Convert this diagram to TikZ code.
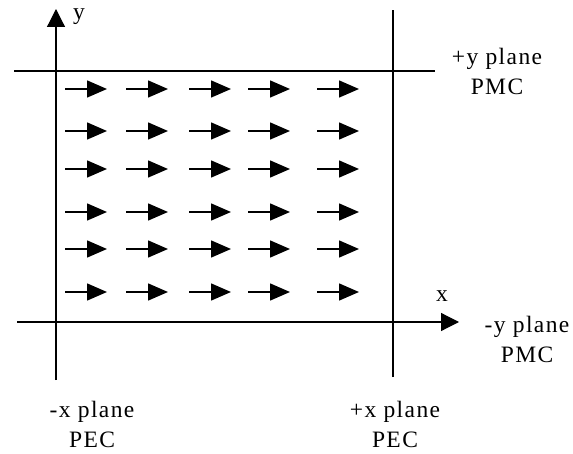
\documentclass[tikz,border=0pt]{standalone}
\usepackage{fontspec}
\setmainfont{Liberation Serif}
\newfontfamily\lblfont[LetterSpace=6]{Liberation Serif}
\usetikzlibrary{arrows.meta}
\begin{document}
\begin{tikzpicture}[x=1pt,y=-1pt,
  axis/.style={line width=1.2pt},
  axarrow/.style={line width=1.2pt,-{Triangle[length=18pt,width=18pt]}},
  fieldarrow/.style={line width=1.5pt,-{Triangle[length=20pt,width=17pt]}},
  lbl/.style={font=\lblfont\fontsize{23.5}{30}\selectfont,inner sep=0pt,align=center}]
\useasboundingbox (0,0) rectangle (573,454);
% axes / planes
\coordinate (ytop) at (56,9);
\coordinate (ybot) at (56,380);
\coordinate (xl) at (17,322);
\coordinate (xr) at (459,322);
\coordinate (tl) at (14,71);
\coordinate (tr) at (435,71);
\coordinate (rt) at (393,10);
\coordinate (rb) at (393,377);
\draw[axarrow] (ybot) -- (ytop);
\draw[axarrow] (xl) -- (xr);
\draw[axis] (tl) -- (tr);
\draw[axis] (rb) -- (rt);
% field arrows
\foreach \yy in {89,131,169,212,249,292}{
  \foreach \xa/\xb in {65/107,126/168,189/231,248/290,317/359}{
    \draw[fieldarrow] (\xa,\yy) -- (\xb,\yy);
  }
}
% labels
\node[lbl] (ylab) at (79,17) {y};
\node[lbl] (xlab) at (442,296) {x};
\node[lbl] (typ) at (497,71) {+y plane\\PMC};
\node[lbl] (byp) at (527,339) {-y plane\\PMC};
\node[lbl] (lxp) at (92,424) {-x plane\\PEC};
\node[lbl] (rxp) at (395,424) {+x plane\\PEC};
\end{tikzpicture}
\end{document}
